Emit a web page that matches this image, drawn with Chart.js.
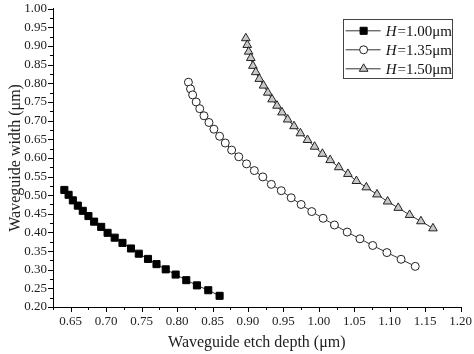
<!DOCTYPE html>
<html>
<head>
<meta charset="utf-8">
<script src="https://cdn.jsdelivr.net/npm/chart.js@4.4.1/dist/chart.umd.min.js"></script>
<style>
  html, body { margin: 0; padding: 0; background: #fff; }
  #wrap { width: 474px; height: 354px; position: relative; }
</style>
</head>
<body>
<div id="wrap"><canvas id="chart"></canvas></div>
<script>
// Etch depth (x) and waveguide width (y), both in µm, one pair of arrays per film thickness H
const hLabels = ['1.00', '1.35', '1.50'];

const depth100 = [0.641, 0.647, 0.653, 0.660, 0.667, 0.675, 0.683, 0.693, 0.702, 0.712, 0.723,
                  0.735, 0.746, 0.759, 0.771, 0.784, 0.798, 0.813, 0.828, 0.844, 0.860];
const width100 = [0.514, 0.501, 0.486, 0.472, 0.458, 0.444, 0.429, 0.415, 0.399, 0.386, 0.372,
                  0.357, 0.343, 0.329, 0.315, 0.301, 0.287, 0.272, 0.258, 0.245, 0.230];

const depth135 = [0.816, 0.819, 0.822, 0.827, 0.832, 0.838, 0.845, 0.852, 0.860, 0.868, 0.877,
                  0.887, 0.898, 0.909, 0.921, 0.933, 0.947, 0.961, 0.975, 0.990, 1.006, 1.022,
                  1.040, 1.058, 1.076, 1.096, 1.116, 1.136];
const width135 = [0.803, 0.785, 0.769, 0.750, 0.732, 0.713, 0.695, 0.677, 0.658, 0.640, 0.621,
                  0.603, 0.584, 0.566, 0.549, 0.529, 0.512, 0.493, 0.475, 0.456, 0.438, 0.420,
                  0.401, 0.383, 0.365, 0.346, 0.328, 0.309];

const depth150 = [0.897, 0.899, 0.901, 0.904, 0.907, 0.911, 0.916, 0.922, 0.928, 0.934, 0.941,
                  0.948, 0.956, 0.965, 0.974, 0.984, 0.994, 1.005, 1.016, 1.028, 1.041, 1.053,
                  1.067, 1.082, 1.097, 1.112, 1.128, 1.144, 1.161];
const width150 = [0.921, 0.903, 0.885, 0.868, 0.847, 0.830, 0.812, 0.794, 0.775, 0.757, 0.740,
                  0.722, 0.703, 0.685, 0.666, 0.648, 0.630, 0.611, 0.594, 0.575, 0.557, 0.538,
                  0.521, 0.502, 0.483, 0.466, 0.447, 0.430, 0.411];

// Axis ranges / tick step (labels every 0.05, minor tick in between)
const xRange = [0.625, 1.20];
const yRange = [0.20, 1.00];
const minorStep = 0.025;

const serif = "'Liberation Serif', 'Times New Roman', serif";

function toPoints(xs, ys) {
    return xs.map((x, i) => ({ x: x, y: ys[i] }));
}

function isMajor(v) {
    return Math.round(v * 1000) % 50 === 0;
}

// Outward major/minor ticks like the original plot
const axisTicks = {
    id: 'axisTicks',
    afterDraw(chart) {
        const ctx = chart.ctx;
        const xs = chart.scales.x;
        const ys = chart.scales.y;
        ctx.save();
        ctx.strokeStyle = '#000';
        ctx.lineWidth = 1;
        ctx.beginPath();
        xs.ticks.forEach(t => {
            const px = Math.round(xs.getPixelForValue(t.value)) + 0.5;
            const len = isMajor(t.value) ? 5 : 3;
            ctx.moveTo(px, xs.top);
            ctx.lineTo(px, xs.top + len);
        });
        ys.ticks.forEach(t => {
            const py = Math.round(ys.getPixelForValue(t.value)) + 0.5;
            const len = isMajor(t.value) ? 5 : 3;
            ctx.moveTo(ys.right, py);
            ctx.lineTo(ys.right - len, py);
        });
        ctx.stroke();
        ctx.restore();
    }
};

// Boxed legend with italic H
const boxLegend = {
    id: 'boxLegend',
    afterDraw(chart) {
        const ctx = chart.ctx;
        const area = chart.chartArea;
        const boxW = 109, boxH = 59;
        const left = area.right - 9 - boxW;
        const top = area.top + 10;
        ctx.save();
        ctx.fillStyle = '#fff';
        ctx.fillRect(left, top, boxW, boxH);
        ctx.strokeStyle = '#444';
        ctx.lineWidth = 1;
        ctx.strokeRect(Math.round(left) + 0.5, Math.round(top) + 0.5, boxW, boxH);

        chart.data.datasets.forEach((ds, i) => {
            const rowY = top + 12 + i * 19;
            ctx.strokeStyle = ds.borderColor;
            ctx.lineWidth = 1;
            ctx.beginPath();
            ctx.moveTo(left + 3, rowY);
            ctx.lineTo(left + 38, rowY);
            ctx.stroke();
            ctx.fillStyle = ds.pointBackgroundColor;
            ctx.strokeStyle = ds.pointBorderColor;
            ctx.lineWidth = ds.pointBorderWidth;
            Chart.helpers.drawPoint(ctx, {
                pointStyle: ds.pointStyle,
                radius: ds.pointRadius,
                rotation: 0,
                borderWidth: ds.pointBorderWidth
            }, left + 21, rowY);

            ctx.fillStyle = '#111';
            ctx.textBaseline = 'middle';
            ctx.font = 'italic 15px ' + serif;
            const tx = left + 43;
            ctx.fillText('H', tx, rowY + 1);
            const hw = ctx.measureText('H').width;
            ctx.font = '15px ' + serif;
            ctx.fillText('=' + hLabels[i] + 'μm', tx + hw + 1, rowY + 1);
        });
        ctx.restore();
    }
};

const lineColor = '#333';

new Chart(document.getElementById('chart'), {
    type: 'scatter',
    data: {
        datasets: [{
            label: 'H=' + hLabels[0] + 'μm',
            data: toPoints(depth100, width100),
            showLine: true,
            borderColor: lineColor,
            borderWidth: 1,
            pointStyle: 'rect',
            pointRadius: 5,
            pointBackgroundColor: '#000',
            pointBorderColor: '#000',
            pointBorderWidth: 1
        }, {
            label: 'H=' + hLabels[1] + 'μm',
            data: toPoints(depth135, width135),
            showLine: true,
            borderColor: lineColor,
            borderWidth: 1,
            pointStyle: 'circle',
            pointRadius: 4,
            pointBackgroundColor: '#fff',
            pointBorderColor: '#222',
            pointBorderWidth: 1
        }, {
            label: 'H=' + hLabels[2] + 'μm',
            data: toPoints(depth150, width150),
            showLine: true,
            borderColor: lineColor,
            borderWidth: 1,
            pointStyle: 'triangle',
            pointRadius: 5,
            pointBackgroundColor: '#c8c8c8',
            pointBorderColor: '#222',
            pointBorderWidth: 1
        }]
    },
    options: {
        responsive: true,
        maintainAspectRatio: false,
        animation: false,
        layout: {
            padding: { left: 0, right: 12, top: 5, bottom: 0 }
        },
        plugins: {
            legend: { display: false },
            tooltip: { enabled: false }
        },
        scales: {
            x: {
                type: 'linear',
                min: xRange[0],
                max: xRange[1],
                afterFit: scale => { scale.height = 47; },
                border: { display: true, color: '#000', width: 1 },
                grid: { drawOnChartArea: false, drawTicks: true, tickLength: 5, tickColor: 'rgba(0,0,0,0)' },
                ticks: {
                    stepSize: minorStep,
                    autoSkip: false,
                    maxRotation: 0,
                    padding: 2,
                    color: '#222',
                    font: { family: serif, size: 13 },
                    callback: v => isMajor(v) ? v.toFixed(2) : ''
                },
                title: {
                    display: true,
                    text: 'Waveguide etch depth (μm)',
                    color: '#222',
                    font: { family: serif, size: 16 },
                    padding: { top: 0, bottom: 2 }
                }
            },
            y: {
                type: 'linear',
                min: yRange[0],
                max: yRange[1],
                afterFit: scale => { scale.width = 53; },
                border: { display: true, color: '#000', width: 1 },
                grid: { drawOnChartArea: false, drawTicks: true, tickLength: 5, tickColor: 'rgba(0,0,0,0)' },
                ticks: {
                    stepSize: minorStep,
                    autoSkip: false,
                    padding: 1,
                    color: '#222',
                    font: { family: serif, size: 13 },
                    callback: v => isMajor(v) ? v.toFixed(2) : ''
                },
                title: {
                    display: true,
                    text: 'Waveguide width (μm)',
                    color: '#222',
                    font: { family: serif, size: 16 },
                    padding: { top: 6, bottom: 0 }
                }
            }
        }
    },
    plugins: [axisTicks, boxLegend]
});
</script>
</body>
</html>
